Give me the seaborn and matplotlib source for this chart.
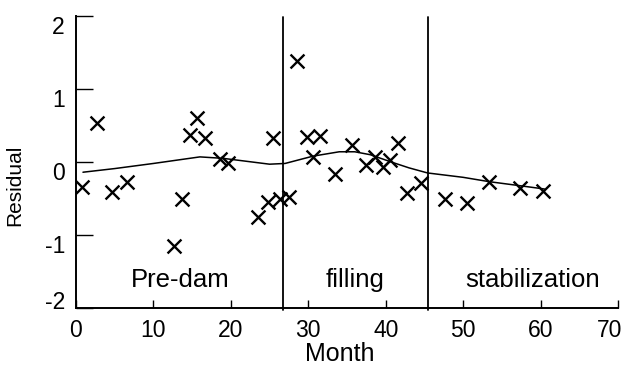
import matplotlib
matplotlib.use("Agg")
import matplotlib.pyplot as plt
import matplotlib.transforms as mtransforms
from matplotlib import font_manager
import seaborn as sns
import pandas as pd

# ---- data ----
months = [0.8, 2.7, 4.6, 6.6, 12.6, 13.7, 14.7, 15.6, 16.6, 18.6, 19.6,
          23.5, 24.8, 25.5, 26.3, 27.5, 28.5, 29.8, 30.6, 31.5, 33.4,
          35.6, 37.5, 38.6, 39.6, 40.5, 41.6, 42.7, 44.6, 47.6, 50.5,
          53.4, 57.4, 60.3]
residuals = [-0.34, 0.53, -0.41, -0.27, -1.15, -0.50, 0.37, 0.60, 0.33, 0.04, -0.01,
             -0.75, -0.55, 0.33, -0.50, -0.48, 1.38, 0.34, 0.07, 0.35, -0.16,
             0.23, -0.04, 0.07, -0.07, 0.03, 0.26, -0.43, -0.29, -0.51, -0.56,
             -0.28, -0.35, -0.40]
curve_months = [0.9, 5, 10, 16, 19, 22, 25, 27, 30.6, 34, 36, 38, 41, 43, 45.4, 50, 53.4, 57, 60.5]
curve_values = [-0.14, -0.09, -0.02, 0.07, 0.05, 0.01, -0.03, -0.02, 0.08, 0.14, 0.14, 0.10, -0.01, -0.08, -0.15, -0.21, -0.27, -0.32, -0.37]
phase_bounds = [26.7, 45.5]
phase_names = ["Pre-dam", "filling", "stabilization"]
x_ticks = [0, 10, 20, 30, 40, 50, 60, 70]
y_ticks = [-2, -1, 0, 1, 2]

# ---- layout / style ----
phase_label_x = [13.5, 36.0, 59.0]
phase_label_y = -1.62

sns.set_style("ticks")
plt.rcParams["font.family"] = ["Liberation Sans", "DejaVu Sans"]
plt.rcParams["text.color"] = "black"
plt.rcParams["axes.labelcolor"] = "black"
plt.rcParams["xtick.color"] = "black"
plt.rcParams["ytick.color"] = "black"
plt.rcParams["axes.edgecolor"] = "black"

avail = {f.name for f in font_manager.fontManager.ttflist}
narrow = "Liberation Sans Narrow" if "Liberation Sans Narrow" in avail else "Liberation Sans"

fig = plt.figure(figsize=(6.27, 3.65), dpi=100)
ax = fig.add_axes([76/627, 1 - 308/365, 542/627, 292/365])

pts = pd.DataFrame({"Month": months, "Residual": residuals})
fit = pd.DataFrame({"Month": curve_months, "Residual": curve_values})

sns.lineplot(data=fit, x="Month", y="Residual", ax=ax, color="black", lw=1.1)
sns.scatterplot(data=pts, x="Month", y="Residual", ax=ax, marker="x",
                color="black", s=100, linewidth=1.7, zorder=3)

for b in phase_bounds:
    ax.plot([b, b], [-2.03, 1.98], color="black", lw=1.3, clip_on=False)

for name, px in zip(phase_names, phase_label_x):
    ax.text(px, phase_label_y, name, ha="center", va="center", fontsize=18.5)

ax.set_xlim(0, 70)
ax.set_ylim(-2, 2)
ax.set_xticks(x_ticks)
ax.set_yticks(y_ticks)
ax.set_xticklabels([str(v) for v in x_ticks])
ax.set_yticklabels([str(v) for v in y_ticks])
ax.tick_params(axis="x", direction="in", length=6, width=1, labelsize=16.5, pad=8)
ax.tick_params(axis="y", direction="in", length=12, width=1, labelsize=16.5, pad=8)
for side in ["top", "right"]:
    ax.spines[side].set_visible(False)
for side in ["left", "bottom"]:
    ax.spines[side].set_linewidth(1.4)

# shift y tick labels like the reference (slightly below their ticks)
for lab, v in zip(ax.get_yticklabels(), y_ticks):
    dy = 0.08 if v == -2 else -0.09
    lab.set_transform(lab.get_transform() + mtransforms.ScaledTranslation(0, dy, fig.dpi_scale_trans))
xl = ax.get_xticklabels()
xl[-1].set_transform(xl[-1].get_transform() + mtransforms.ScaledTranslation(-0.08, 0, fig.dpi_scale_trans))

ax.set_xlabel("Month", fontsize=18)
ax.set_ylabel("Residual", fontsize=15, family=[narrow, "DejaVu Sans"])
ax.xaxis.set_label_coords(0.487, -0.115)
ax.yaxis.set_label_coords(-0.095, 0.42)

fig.savefig("out.png", dpi=100)
